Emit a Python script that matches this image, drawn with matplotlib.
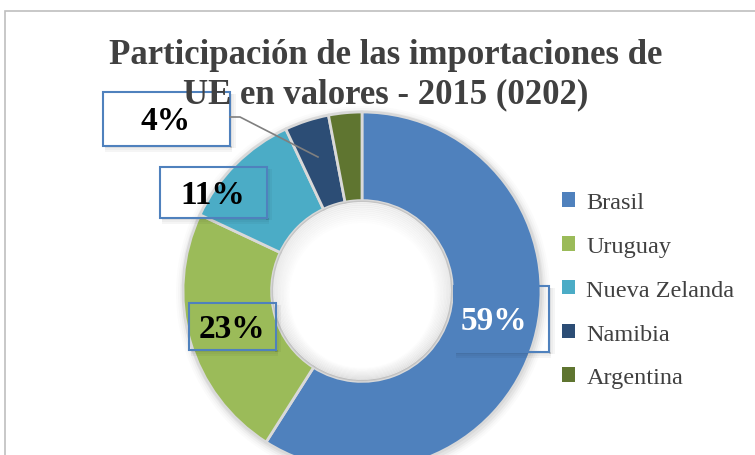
import matplotlib.pyplot as plt
from matplotlib.patches import Rectangle, Wedge

paises = ['Brasil', 'Uruguay', 'Nueva Zelanda', 'Namibia', 'Argentina']
participacion = [59, 23, 11, 4, 3]
colores = ['#4f81bd', '#9bbb59', '#4bacc6', '#2c4d75', '#5f7530']
etiquetas = ['59%', '23%', '11%', '4%', '']

W, H = 755, 456
fig = plt.figure(figsize=(W / 100, H / 100), dpi=100)
ax = fig.add_axes([0, 0, 1, 1])

# centro y radio del anillo en pixeles (y hacia arriba)
cx, cy, r = 362, H - 292, 179

# sombra suave del anillo
for k, a in enumerate([0.04, 0.03, 0.02, 0.015]):
    ax.add_patch(plt.Circle((cx + 1, cy - 2), r + 2 + 2 * k, color='k', alpha=a, lw=0, zorder=0))

wedges, _ = ax.pie(participacion, colors=colores, startangle=90, counterclock=False,
                   radius=r, center=(cx, cy), frame=True,
                   wedgeprops=dict(width=r * 0.495, edgecolor='#d9d9d9', linewidth=2))
for w in wedges:
    w.set_zorder(2)

# hueco blanco con sombra interior (degradado)
r_in = r * 0.505
ax.add_patch(plt.Circle((cx, cy), r_in, color='white', lw=0, zorder=1.5))
for k in range(12):
    ax.add_patch(Wedge((cx, cy - 0.4 * k), r_in - 1.5 * k, 0, 360, width=1.6,
                       facecolor='k', alpha=0.09 * (1 - k / 12), lw=0, zorder=3))

ax.set_xlim(0, W)
ax.set_ylim(0, H)
ax.set_aspect('equal')
ax.axis('off')

# borde del area del grafico
ax.add_patch(Rectangle((5, -10), W, H - 12 + 10, fill=False, edgecolor='#bfbfbf', lw=1.2, zorder=1))

titulo = ['Participación de las importaciones de', 'UE en valores - 2015 (0202)']
for i, linea in enumerate(titulo):
    ax.text(386, H - 55 - 40 * i, linea, ha='center', va='center', fontsize=25,
            fontweight='bold', family='Liberation Serif', color='#404040', zorder=6)

# cajas de etiquetas: centro x, centro y, color texto, fondo, ancho, alto
pos_etq = {'59%': (502, H - 320, 'white', 'none', 95, 66),
           '23%': (232, H - 327, 'black', 'none', 87, 47),
           '11%': (213, H - 193, 'black', 'none', 107, 51),
           '4%': (166, H - 120, 'black', 'white', 127, 54)}
for et in etiquetas:
    if not et:
        continue
    x, y, tc, fc, bw, bh = pos_etq[et]
    x0, y0 = x - bw / 2, y - bh / 2
    for k, a in enumerate([0.12, 0.07, 0.04]):
        ax.add_patch(Rectangle((x0 + 2, y0 - 2 - 2 * k), bw, 2, facecolor='k', alpha=a, lw=0, zorder=4))
        ax.add_patch(Rectangle((x0 + bw + 2 * k, y0 - 2), 2, bh, facecolor='k', alpha=a, lw=0, zorder=4))
    ax.add_patch(Rectangle((x0, y0), bw, bh, facecolor=fc, edgecolor='#4f81bd',
                           lw=1.5, zorder=5))
    ax.text(x - 8 if et == '59%' else x, y - 2, et, ha='center', va='center', fontsize=24,
            fontweight='bold', family='Liberation Serif', color=tc, zorder=6)

# linea guia de 4%
ax.plot([230, 240, 318], [H - 118, H - 118, H - 158], color='#7f7f7f', lw=1.2, zorder=6)

leg = ax.legend(wedges, paises, loc='upper left', bbox_to_anchor=(562 / W, 1 - 193 / H),
                frameon=False, prop={'family': 'Liberation Serif', 'size': 17.5},
                labelcolor='#404040', handlelength=0.55, handleheight=0.55, handletextpad=0.45,
                labelspacing=0.94, borderaxespad=0, borderpad=0)
for h in leg.legend_handles:
    h.set_edgecolor('none')

fig.savefig('out.png', dpi=100)
